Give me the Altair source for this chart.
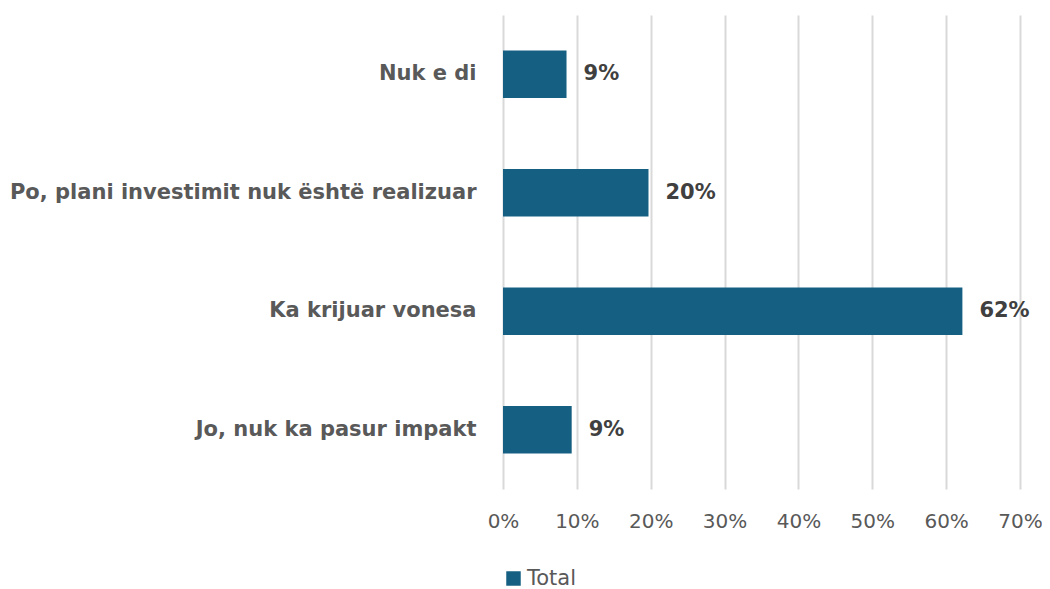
import altair as alt
import pandas as pd

categories = ["Nuk e di", "Po, plani investimit nuk është realizuar", "Ka krijuar vonesa", "Jo, nuk ka pasur impakt"]
values = [0.086, 0.197, 0.622, 0.093]
labels = ["9%", "20%", "62%", "9%"]
series = ["Total", "Total", "Total", "Total"]

df = pd.DataFrame({"cat": categories, "val": values, "lab": labels, "series": series})

FONT = "DejaVu Sans"
BOLD_FONT = "DejaVu Sans"

y_enc = alt.Y("cat:N", sort=categories, title=None,
              scale=alt.Scale(paddingInner=0.6, paddingOuter=0.3),
              axis=alt.Axis(labelFont=BOLD_FONT, labelFontSize=21, labelFontWeight="bold",
                            labelColor="#595959", labelPadding=27, ticks=False,
                            domain=False, grid=False, labelLimit=600))

bars = alt.Chart(df).mark_bar(color="#156082").encode(
    y=y_enc,
    x=alt.X("val:Q", title=None,
            scale=alt.Scale(domain=[0, 0.7], nice=False),
            axis=alt.Axis(format=".0%", values=[0, 0.1, 0.2, 0.3, 0.4, 0.5, 0.6, 0.7],
                          labelFont=FONT, labelFontSize=20, labelColor="#595959",
                          labelPadding=22, ticks=False, domain=False, labelFlush=False,
                          grid=True, gridColor="#d9d9d9", gridWidth=2)),
    fill=alt.Fill("series:N", scale=alt.Scale(range=["#156082"]),
                  legend=alt.Legend(title=None, orient="none", legendX=0, legendY=553,
                                    symbolType="square", symbolSize=210,
                                    symbolStrokeWidth=0, labelFont=FONT,
                                    labelFontSize=21, labelColor="#595959",
                                    labelOffset=3)),
)

text = alt.Chart(df).mark_text(align="left", baseline="middle", dx=17,
                                font=BOLD_FONT, fontSize=21, fontWeight="bold",
                                color="#404040").encode(
    y=alt.Y("cat:N", sort=categories),
    x="val:Q",
    text="lab:N",
)

chart = (bars + text).properties(
    width=517, height=474,
    padding={"left": 495, "top": 7, "right": 22, "bottom": 102},
    autosize=alt.AutoSizeParams(type="none"),
).configure_view(stroke=None)

chart.save("out.html", embed_options={"renderer": "svg", "actions": False})
